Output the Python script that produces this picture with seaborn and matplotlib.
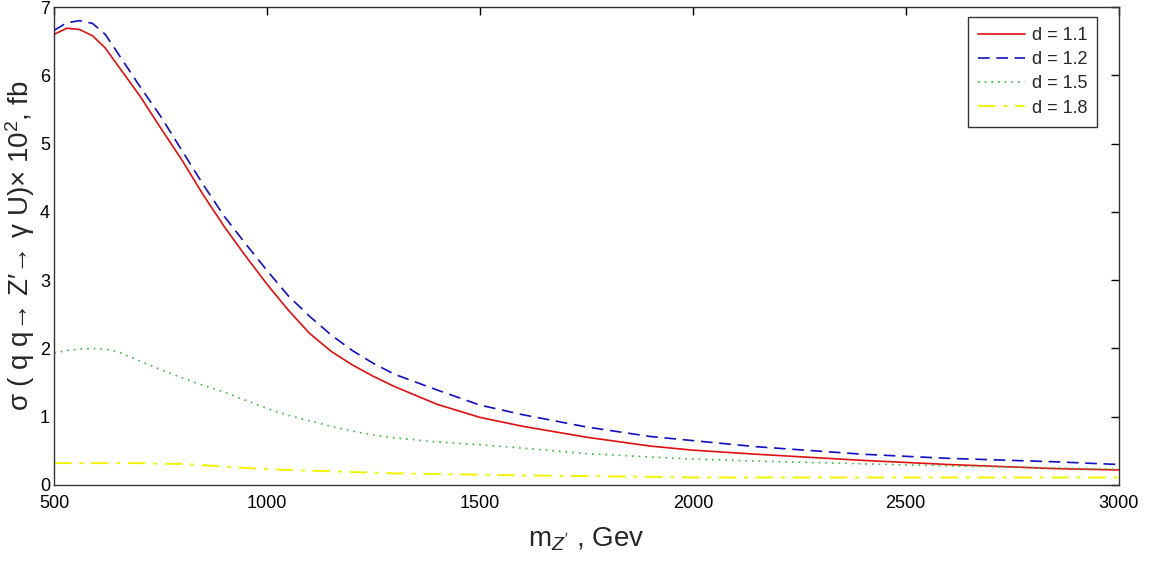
import numpy as np
import pandas as pd
import matplotlib
matplotlib.use("Agg")
import matplotlib.pyplot as plt
import seaborn as sns

# masses, GeV
mass = [500, 530, 560, 590, 620, 650, 700, 750, 800, 850, 900, 950, 1000, 1050,
        1100, 1150, 1200, 1250, 1300, 1400, 1500, 1600, 1750, 1900, 2000, 2150,
        2400, 2600, 2850, 3000]

# cross sections x 10^2, fb
sig_11 = [6.60, 6.69, 6.67, 6.58, 6.40, 6.14, 5.71, 5.23, 4.76, 4.25, 3.78, 3.35,
          2.94, 2.56, 2.22, 1.96, 1.76, 1.59, 1.44, 1.18, 0.99, 0.86, 0.70, 0.57,
          0.51, 0.45, 0.36, 0.30, 0.24, 0.22]
sig_12 = [6.66, 6.77, 6.80, 6.76, 6.60, 6.32, 5.85, 5.40, 4.90, 4.40, 3.93, 3.53,
          3.14, 2.77, 2.47, 2.20, 1.97, 1.78, 1.62, 1.39, 1.17, 1.03, 0.85, 0.71,
          0.65, 0.56, 0.45, 0.39, 0.34, 0.30]
sig_15 = [1.93, 1.97, 1.99, 2.00, 1.99, 1.95, 1.82, 1.69, 1.57, 1.46, 1.36, 1.24,
          1.12, 1.02, 0.94, 0.86, 0.79, 0.73, 0.69, 0.63, 0.59, 0.54, 0.46, 0.41,
          0.38, 0.35, 0.31, 0.28, 0.25, 0.23]
sig_18 = [0.32, 0.32, 0.32, 0.32, 0.32, 0.32, 0.32, 0.31, 0.31, 0.29, 0.27, 0.25,
          0.23, 0.22, 0.21, 0.20, 0.19, 0.18, 0.17, 0.16, 0.15, 0.14, 0.13, 0.12,
          0.11, 0.11, 0.11, 0.11, 0.11, 0.11]

labels = ["d = 1.1", "d = 1.2", "d = 1.5", "d = 1.8"]
x_ticks = [500, 1000, 1500, 2000, 2500, 3000]
y_ticks = [0, 1, 2, 3, 4, 5, 6, 7]

sns.set_style("white")
plt.rcParams["font.family"] = ["Liberation Sans", "DejaVu Sans"]
plt.rcParams["mathtext.fontset"] = "custom"
plt.rcParams["mathtext.rm"] = "Liberation Sans"
plt.rcParams["mathtext.it"] = "Liberation Sans:italic"

fig = plt.figure(figsize=(11.52, 5.61), dpi=100)
ax = fig.add_axes([0.047, 0.1355, 0.924, 0.852])

styles = [
    dict(color="#e01010", linestyle="-", linewidth=1.2),
    dict(color="#1010c0", linestyle=(0, (7, 4)), linewidth=1.2),
    dict(color="#33bb33", linestyle=(0, (1, 3)), linewidth=1.2),
    dict(color="#f2f200", linestyle=(0, (9, 4, 2, 4)), linewidth=1.4),
]

for sig, lab, st in zip([sig_11, sig_12, sig_15, sig_18], labels, styles):
    df = pd.DataFrame({"m": mass, "sigma": sig})
    sns.lineplot(data=df, x="m", y="sigma", ax=ax, label=lab, **st)

ax.set_xlim(500, 3000)
ax.set_ylim(0, 7)
ax.set_xticks(x_ticks)
ax.set_yticks(y_ticks)
ax.tick_params(direction="in", top=True, right=True, length=6, width=1,
               labelsize=13, colors="black")
ax.tick_params(axis="x", pad=7)
ax.tick_params(axis="y", pad=3)
for sp in ax.spines.values():
    sp.set_color("#333333")
    sp.set_linewidth(1)

ax.set_xlabel(r"m$_{Z^{\prime}}$ , Gev", fontsize=20, labelpad=10)
ax.set_ylabel("σ ( q q→ Z′→ γ U)× 10$^2$, fb", fontsize=20, labelpad=2)

leg = ax.legend(loc="upper right", bbox_to_anchor=(0.980, 0.979), fontsize=13,
                frameon=True, fancybox=False, handlelength=2.6, borderpad=0.55,
                labelspacing=0.4, handletextpad=0.4, borderaxespad=0)
leg.get_frame().set_edgecolor("black")
leg.get_frame().set_linewidth(1)

fig.savefig("out.png", dpi=100, facecolor="white")
